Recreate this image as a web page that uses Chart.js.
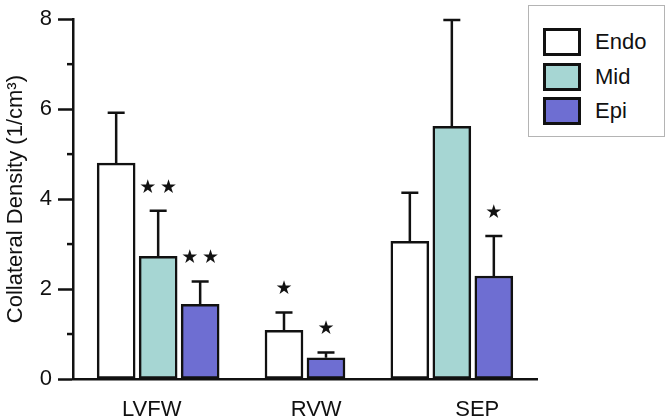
<!DOCTYPE html>
<html>
<head>
<meta charset="utf-8">
<script src="https://cdn.jsdelivr.net/npm/chart.js@4/dist/chart.umd.min.js"></script>
<style>
  html, body { margin: 0; padding: 0; background: #fff; }
  #wrap { position: relative; width: 667px; height: 417px; }
  #legend {
    position: absolute; left: 528px; top: 5px; width: 137px; height: 132px;
    border: 1px solid #b4b4b4; box-sizing: border-box; background: #fff;
    font-family: "Liberation Sans", Arial, sans-serif; font-size: 22px; color: #111;
  }
  .item { position: absolute; left: 14px; height: 28px; display: flex; align-items: center; }
  .swatch { width: 38px; height: 28px; box-sizing: border-box; border: 3px solid #111; margin-right: 14px; }
</style>
</head>
<body>
<div id="wrap">
  <canvas id="c" width="667" height="417"></canvas>
  <div id="legend"></div>
</div>
<script>
// ---------- DATOS ----------
const categories = ["LVFW", "RVW", "SEP"];
const seriesNames = ["Endo", "Mid", "Epi"];
const endo = [4.80, 1.08, 3.06];
const mid = [2.73, null, 5.62];
const epi = [1.66, 0.47, 2.29];
const endoErr = [1.12, 0.40, 1.08];
const midErr = [1.01, null, 2.36];
const epiErr = [0.51, 0.12, 0.89];
const endoStars = [0, 1, 0];
const midStars = [2, 0, 0];
const epiStars = [2, 1, 1];
const yTicks = [0, 2, 4, 6, 8];

const COLORS = { Endo: "#ffffff", Mid: "#a6d6d3", Epi: "#6e6ed2" };
const values = [endo, mid, epi];
const errors = [endoErr, midErr, epiErr];
const stars = [endoStars, midStars, epiStars];

// ---------- POSICIONES X ----------
const SLOT = 0.286;          // ancho de cada barra en unidades del eje
const LABEL_SHIFT = [-0.044, 0.076, 0.173];

function xFor(s, c) {
  const present = values.map(v => v[c]).map((v, i) => v == null ? -1 : i).filter(i => i >= 0);
  const k = present.indexOf(s);
  return c + (k - (present.length - 1) / 2) * SLOT;
}

const datasets = seriesNames.map((name, s) => ({
  label: name,
  data: categories.map((_, c) => values[s][c] == null ? null : { x: xFor(s, c), y: values[s][c] }).filter(p => p),
  err: categories.map((_, c) => errors[s][c]).filter(e => e != null),
  stars: categories.map((_, c) => values[s][c] == null ? null : stars[s][c]).filter(v => v != null),
  backgroundColor: COLORS[name],
  borderColor: "#111",
  borderWidth: 2.5,
  borderSkipped: false,
  barThickness: 38,
  grouped: false
}));

// ---------- PLUGINS ----------
const errorBars = {
  id: "errorBars",
  afterDatasetsDraw(chart) {
    const ctx = chart.ctx;
    const y = chart.scales.y;
    ctx.save();
    ctx.strokeStyle = "#111";
    ctx.lineWidth = 2.5;
    ctx.fillStyle = "#111";
    ctx.textAlign = "center";
    ctx.textBaseline = "middle";
    ctx.font = "19px 'DejaVu Sans'";
    chart.data.datasets.forEach((ds, i) => {
      chart.getDatasetMeta(i).data.forEach((bar, j) => {
        const top = y.getPixelForValue(ds.data[j].y + ds.err[j]);
        ctx.beginPath();
        ctx.moveTo(bar.x, bar.y);
        ctx.lineTo(bar.x, top);
        ctx.moveTo(bar.x - 8.5, top);
        ctx.lineTo(bar.x + 8.5, top);
        ctx.stroke();
        const n = ds.stars[j];
        if (n) ctx.fillText(n === 2 ? "\u2605\u2009\u2605" : "\u2605", bar.x, top - 23);
      });
    });
    ctx.restore();
  }
};

const minorTicks = {
  id: "minorTicks",
  afterDraw(chart) {
    const ctx = chart.ctx;
    const y = chart.scales.y;
    const x0 = chart.chartArea.left;
    ctx.save();
    ctx.strokeStyle = "#111";
    ctx.lineWidth = 2.5;
    for (let v = 1; v < 8; v += 2) {
      const py = y.getPixelForValue(v);
      ctx.beginPath();
      ctx.moveTo(x0 - 6, py);
      ctx.lineTo(x0, py);
      ctx.stroke();
    }
    ctx.restore();
  }
};

// ---------- GRAFICO ----------
new Chart(document.getElementById("c"), {
  type: "bar",
  data: { datasets },
  options: {
    responsive: false,
    devicePixelRatio: 1,
    animation: false,
    layout: { padding: { top: 10, right: 130, left: 0, bottom: 0 } },
    plugins: { legend: { display: false }, tooltip: { enabled: false } },
    scales: {
      x: {
        type: "linear",
        offset: false,
        min: -0.58,
        max: 2.58,
        afterFit: s => { s.height = 38; },
        afterBuildTicks: s => { s.ticks = categories.map((_, i) => ({ value: i + LABEL_SHIFT[i] })); },
        grid: { display: false, drawTicks: false },
        border: { display: true, color: "#111", width: 2.5 },
        ticks: {
          padding: 18,
          color: "#111",
          font: { family: "Liberation Sans", size: 22 },
          callback: (v, i) => categories[i]
        }
      },
      y: {
        min: 0,
        max: 8,
        afterFit: s => { s.width = 73; },
        afterBuildTicks: s => { s.ticks = yTicks.map(v => ({ value: v })); },
        grid: { drawOnChartArea: false, tickLength: 15, tickColor: "#111", tickWidth: 2.5 },
        border: { display: true, color: "#111", width: 2.5 },
        ticks: { padding: 6, color: "#111", font: { family: "Liberation Sans", size: 22 } },
        title: {
          display: true,
          text: "Collateral Density (1/cm\u00b3)",
          color: "#111",
          font: { family: "Liberation Sans", size: 22 },
          padding: { top: 3, bottom: 0 }
        }
      }
    }
  },
  plugins: [errorBars, minorTicks]
});

// ---------- LEYENDA ----------
const legend = document.getElementById("legend");
seriesNames.forEach((name, i) => {
  const item = document.createElement("div");
  item.className = "item";
  item.style.top = (22 + i * 34.5) + "px";
  item.innerHTML = `<div class="swatch" style="background:${COLORS[name]}"></div><span>${name}</span>`;
  legend.appendChild(item);
});
</script>
</body>
</html>
